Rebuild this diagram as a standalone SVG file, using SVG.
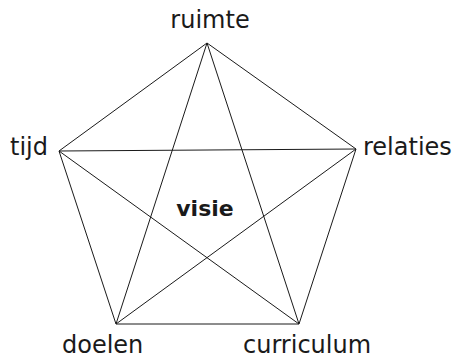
<svg xmlns="http://www.w3.org/2000/svg" width="455" height="361" viewBox="0 0 455 361">
<style>
.lbl{font-family:"DejaVu Sans",sans-serif;font-size:24px;fill:#1a1a1a}
.c line{stroke:#1a1a1a;stroke-width:1}
.ctr{font-family:"DejaVu Sans",sans-serif;font-size:22px;font-weight:bold;fill:#1a1a1a}
</style>
<rect width="455" height="361" fill="#fff"/>
<g class="c" id="connectors">
<line x1="207" y1="43" x2="356" y2="149"/>
<line x1="356" y1="149" x2="299" y2="324"/>
<line x1="299" y1="324" x2="116" y2="324"/>
<line x1="116" y1="324" x2="59" y2="151"/>
<line x1="59" y1="151" x2="207" y2="43"/>
<line x1="207" y1="43" x2="299" y2="324"/>
<line x1="207" y1="43" x2="116" y2="324"/>
<line x1="59" y1="151" x2="356" y2="149"/>
<line x1="59" y1="151" x2="299" y2="324"/>
<line x1="356" y1="149" x2="116" y2="324"/>
</g>
<g id="ruimte"><text class="lbl" x="210" y="28" text-anchor="middle">ruimte</text></g>
<g id="tijd"><text class="lbl" x="10" y="155">tijd</text></g>
<g id="relaties"><text class="lbl" x="363" y="155">relaties</text></g>
<g id="doelen"><text class="lbl" x="62" y="353">doelen</text></g>
<g id="curriculum"><text class="lbl" x="243" y="353">curriculum</text></g>
<g id="visie"><text class="ctr" x="205" y="216" text-anchor="middle">visie</text></g>
</svg>
